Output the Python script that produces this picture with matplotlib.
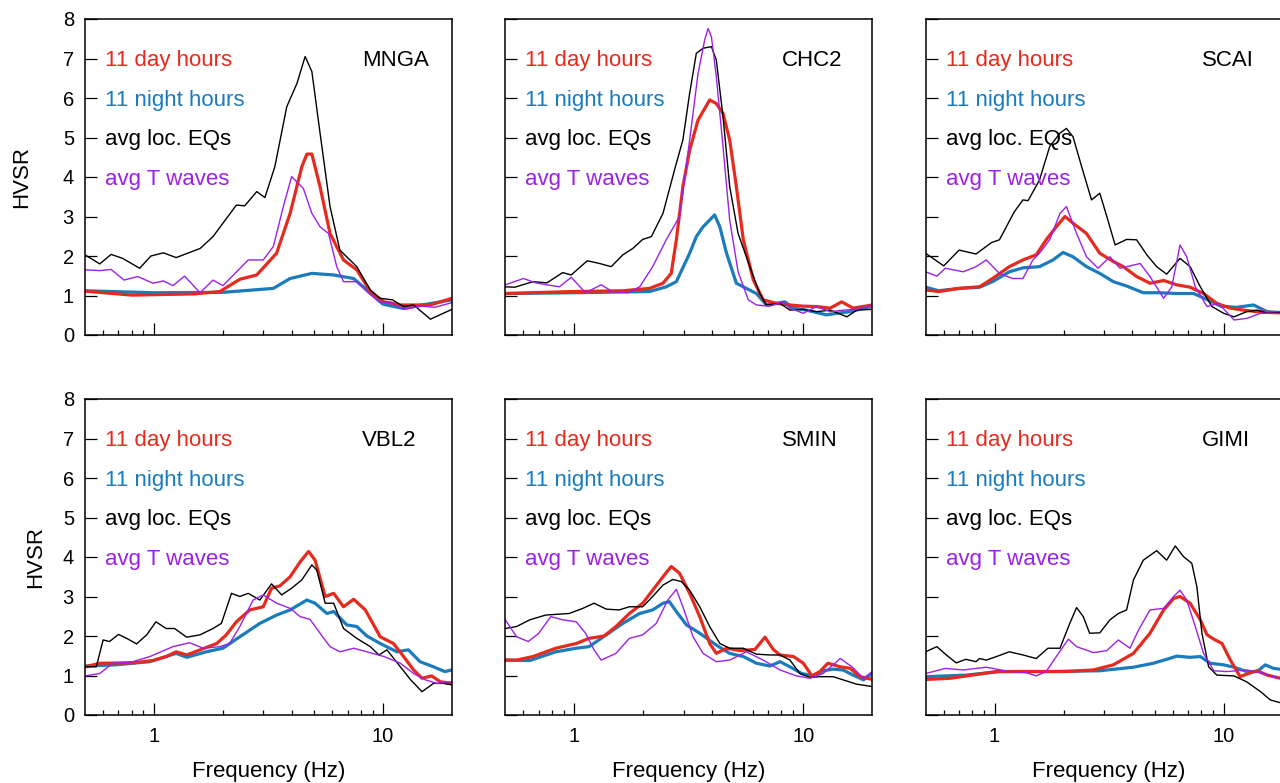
import matplotlib
matplotlib.use("Agg")
import matplotlib.pyplot as plt
from matplotlib.ticker import FixedLocator, NullFormatter

plt.rcParams['font.family'] = ['Liberation Sans', 'DejaVu Sans']

# colours of the four curves
c_day = '#e62a1e'
c_night = '#1a7bbd'
c_eq = 'black'
c_tw = '#9d20e8'

stations = ['MNGA', 'CHC2', 'SCAI', 'VBL2', 'SMIN', 'GIMI']
legend_txt = ['11 day hours', '11 night hours', 'avg loc. EQs', 'avg T waves']

# ---- MNGA ----
mnga_day_f = [0.5, 0.8, 1.5, 1.94, 2.37, 2.81, 3.43, 3.93, 4.42, 4.65, 4.89, 5.31, 5.87, 6.72, 7.68, 8.8, 10.1, 11.9, 13.6, 16.1, 20]
mnga_day = [1.11, 1.01, 1.04, 1.10, 1.41, 1.52, 2.07, 3.08, 4.26, 4.58, 4.58, 3.75, 2.57, 1.90, 1.65, 1.10, 0.84, 0.76, 0.76, 0.76, 0.93]
mnga_night_f = [0.5, 1.0, 2.0, 3.32, 3.93, 4.89, 6.09, 7.44, 8.5, 10.0, 12.3, 14.8, 20]
mnga_night = [1.12, 1.07, 1.08, 1.18, 1.43, 1.56, 1.52, 1.43, 1.14, 0.78, 0.67, 0.76, 0.89]
mnga_eq_f = [0.5, 0.58, 0.65, 0.73, 0.866, 0.97, 1.10, 1.25, 1.59, 1.81, 2.29, 2.49, 2.81, 3.05, 3.37, 3.80, 4.21, 4.57, 4.89, 5.31, 5.87, 6.48, 7.68, 8.8, 9.69, 10.98, 12.3, 13.6, 16.1, 20]
mnga_eq = [2.03, 1.80, 2.04, 1.94, 1.69, 2.0, 2.08, 1.96, 2.19, 2.49, 3.29, 3.27, 3.63, 3.48, 4.26, 5.78, 6.37, 7.05, 6.67, 5.11, 3.25, 2.15, 1.73, 1.14, 0.93, 0.89, 0.72, 0.76, 0.40, 0.65]
mnga_tw_f = [0.5, 0.58, 0.65, 0.74, 0.85, 0.99, 1.10, 1.21, 1.36, 1.59, 1.81, 2.0, 2.58, 3.0, 3.32, 3.67, 3.99, 4.49, 4.89, 5.31, 5.78, 6.28, 6.72, 7.68, 8.5, 9.7, 10.7, 12.3, 14.8, 16.8, 20]
mnga_tw = [1.65, 1.63, 1.66, 1.39, 1.48, 1.31, 1.37, 1.25, 1.49, 1.07, 1.39, 1.25, 1.90, 1.90, 2.24, 3.25, 4.01, 3.71, 3.08, 2.74, 2.57, 1.73, 1.35, 1.35, 1.10, 0.82, 0.84, 0.65, 0.73, 0.70, 0.82]

# ---- CHC2 ----
chc2_day_f = [0.5, 0.98, 1.63, 2.13, 2.44, 2.65, 2.79, 2.98, 3.19, 3.47, 3.90, 4.17, 4.46, 4.77, 5.10, 5.47, 6.05, 6.68, 7.64, 8.74, 10, 11.4, 13.1, 14.7, 16.5, 20]
chc2_day = [1.05, 1.10, 1.12, 1.18, 1.31, 1.56, 2.41, 3.76, 4.68, 5.44, 5.95, 5.86, 5.61, 4.94, 3.76, 2.41, 1.39, 0.89, 0.80, 0.76, 0.73, 0.72, 0.68, 0.84, 0.68, 0.76]
chc2_night_f = [0.5, 1.0, 2.13, 2.52, 2.79, 3.19, 3.41, 3.65, 3.90, 4.10, 4.32, 4.62, 5.10, 5.64, 6.24, 6.9, 7.6, 8.3, 9.06, 10.3, 12.6, 14.0, 16.0, 20]
chc2_night = [1.05, 1.07, 1.10, 1.22, 1.35, 2.07, 2.49, 2.74, 2.91, 3.04, 2.74, 2.07, 1.31, 1.18, 1.05, 0.76, 0.80, 0.84, 0.68, 0.63, 0.51, 0.55, 0.59, 0.73]
chc2_eq_f = [0.5, 0.55, 0.66, 0.76, 0.89, 0.97, 1.14, 1.29, 1.45, 1.63, 1.80, 1.99, 2.17, 2.44, 2.74, 2.98, 3.19, 3.41, 3.65, 3.97, 4.17, 4.46, 4.77, 5.19, 5.84, 6.45, 6.90, 7.91, 8.74, 10, 11.4, 13.1, 15.5, 17.1, 20]
chc2_eq = [1.22, 1.21, 1.35, 1.32, 1.58, 1.52, 1.88, 1.81, 1.73, 2.03, 2.19, 2.42, 2.49, 3.08, 4.18, 4.94, 6.12, 7.13, 7.26, 7.30, 6.96, 5.53, 3.76, 2.57, 1.73, 1.05, 0.76, 0.80, 0.63, 0.65, 0.59, 0.63, 0.46, 0.63, 0.65]
chc2_tw_f = [0.5, 0.60, 0.68, 0.76, 0.86, 0.97, 1.12, 1.31, 1.47, 1.71, 1.93, 2.20, 2.52, 2.88, 3.19, 3.47, 3.71, 3.84, 3.97, 4.17, 4.46, 4.77, 5.19, 5.75, 6.24, 7.14, 8.17, 8.74, 10, 11.4, 13.1, 15.0, 17.1, 20]
chc2_tw = [1.27, 1.43, 1.32, 1.27, 1.22, 1.46, 1.07, 1.27, 1.10, 1.07, 1.22, 1.73, 2.41, 3.0, 4.94, 6.62, 7.47, 7.76, 7.55, 6.54, 4.77, 2.91, 1.60, 0.89, 0.76, 0.73, 0.84, 0.68, 0.55, 0.72, 0.59, 0.63, 0.65, 0.76]

# ---- SCAI ----
scai_day_f = [0.5, 0.57, 0.70, 0.86, 0.98, 1.16, 1.33, 1.52, 1.68, 1.86, 2.03, 2.20, 2.52, 2.88, 3.30, 3.65, 4.17, 4.77, 5.47, 6.24, 7.14, 8.17, 9.34, 10.7, 12.2, 14.0, 16.0, 20]
scai_day = [1.14, 1.10, 1.18, 1.22, 1.43, 1.73, 1.90, 2.03, 2.41, 2.74, 3.0, 2.83, 2.57, 2.07, 1.86, 1.73, 1.48, 1.31, 1.38, 1.27, 1.21, 1.05, 0.80, 0.68, 0.63, 0.59, 0.57, 0.55]
scai_night_f = [0.5, 0.57, 0.70, 0.86, 0.98, 1.16, 1.33, 1.57, 1.80, 1.99, 2.20, 2.52, 2.88, 3.30, 3.77, 4.46, 5.28, 6.24, 7.4, 8.46, 9.7, 11.4, 13.5, 15.5, 20]
scai_night = [1.21, 1.12, 1.18, 1.21, 1.35, 1.60, 1.70, 1.73, 1.90, 2.09, 1.98, 1.73, 1.56, 1.35, 1.24, 1.07, 1.07, 1.05, 1.05, 0.90, 0.73, 0.70, 0.76, 0.59, 0.55]
scai_eq_f = [0.5, 0.60, 0.70, 0.83, 0.97, 1.05, 1.22, 1.33, 1.40, 1.57, 1.74, 1.93, 2.06, 2.20, 2.40, 2.65, 2.88, 3.09, 3.36, 3.77, 4.17, 4.62, 5.1, 5.64, 6.45, 7.14, 7.91, 8.89, 10, 11.1, 12.6, 14.0, 15.5, 20]
scai_eq = [2.07, 1.75, 2.15, 2.05, 2.34, 2.41, 3.12, 3.42, 3.40, 3.92, 4.77, 5.11, 5.23, 5.02, 4.26, 3.42, 3.59, 3.0, 2.28, 2.42, 2.41, 2.03, 1.73, 1.54, 1.94, 1.73, 1.22, 0.72, 0.55, 0.46, 0.59, 0.63, 0.55, 0.59]
scai_tw_f = [0.5, 0.56, 0.61, 0.73, 0.83, 0.92, 1.05, 1.20, 1.33, 1.47, 1.57, 1.74, 1.93, 2.06, 2.28, 2.52, 2.83, 3.19, 3.53, 4.04, 4.32, 4.77, 5.47, 5.94, 6.45, 6.90, 7.52, 8.46, 9.5, 11.1, 12.6, 14.5, 20]
scai_tw = [1.60, 1.49, 1.69, 1.60, 1.73, 1.90, 1.56, 1.43, 1.43, 1.90, 2.07, 2.41, 3.08, 3.25, 2.57, 1.98, 1.69, 1.98, 1.69, 1.77, 1.81, 1.48, 0.93, 1.22, 2.28, 1.98, 1.22, 0.72, 0.80, 0.38, 0.42, 0.55, 0.55]

# ---- VBL2 ----
vbl2_day_f = [0.5, 0.58, 0.81, 0.99, 1.13, 1.25, 1.39, 1.59, 1.88, 2.07, 2.29, 2.62, 3.0, 3.26, 3.55, 3.93, 4.35, 4.73, 5.05, 5.59, 6.09, 6.72, 7.44, 8.37, 9.72, 11.1, 12.3, 13.6, 14.8, 16.3, 17.8, 20]
vbl2_day = [1.22, 1.31, 1.32, 1.38, 1.48, 1.60, 1.52, 1.65, 1.81, 2.03, 2.36, 2.66, 2.74, 3.21, 3.27, 3.50, 3.88, 4.14, 3.92, 3.0, 3.08, 2.74, 2.93, 2.66, 1.98, 1.81, 1.48, 1.14, 0.93, 0.99, 0.84, 0.80]
vbl2_night_f = [0.5, 0.68, 0.96, 1.13, 1.25, 1.39, 1.69, 2.0, 2.37, 2.90, 3.43, 3.93, 4.65, 5.05, 5.69, 6.09, 6.95, 7.68, 8.5, 9.72, 11.5, 12.9, 14.5, 16.6, 18.6, 20]
vbl2_night = [1.24, 1.27, 1.35, 1.48, 1.56, 1.46, 1.60, 1.69, 1.98, 2.32, 2.53, 2.66, 2.91, 2.83, 2.57, 2.62, 2.28, 2.24, 2.0, 1.81, 1.60, 1.65, 1.35, 1.22, 1.10, 1.14]
vbl2_eq_f = [0.5, 0.56, 0.60, 0.64, 0.70, 0.76, 0.84, 0.93, 1.02, 1.13, 1.23, 1.39, 1.59, 1.81, 1.97, 2.18, 2.37, 2.58, 2.90, 3.26, 3.61, 3.99, 4.42, 4.89, 5.14, 5.59, 6.09, 6.72, 7.68, 8.80, 9.6, 10.4, 11.9, 13.2, 14.8, 16.6, 18.4, 20]
vbl2_eq = [1.22, 1.22, 1.90, 1.86, 2.04, 1.94, 1.80, 2.03, 2.36, 2.19, 2.19, 1.97, 2.03, 2.19, 2.32, 3.08, 3.0, 3.08, 2.91, 3.32, 3.04, 3.21, 3.42, 3.80, 3.67, 2.83, 2.83, 2.19, 1.94, 1.73, 1.52, 1.65, 1.22, 0.89, 0.59, 0.80, 0.80, 0.76]
vbl2_tw_f = [0.5, 0.58, 0.66, 0.81, 0.96, 1.21, 1.43, 1.64, 1.94, 2.14, 2.37, 2.71, 3.0, 3.43, 3.93, 4.35, 4.80, 5.31, 5.87, 6.49, 7.44, 8.5, 10.1, 11.9, 13.6, 15.3, 17.2, 20]
vbl2_tw = [0.99, 1.05, 1.31, 1.35, 1.48, 1.73, 1.83, 1.69, 1.73, 1.81, 2.24, 2.91, 3.04, 2.83, 2.70, 2.49, 2.42, 2.07, 1.73, 1.60, 1.69, 1.60, 1.48, 1.31, 1.05, 0.89, 0.80, 0.84]

# ---- SMIN ----
smin_day_f = [0.5, 0.56, 0.66, 0.83, 1.02, 1.16, 1.35, 1.52, 1.74, 1.99, 2.20, 2.44, 2.65, 2.88, 3.19, 3.53, 3.90, 4.17, 4.62, 5.28, 6.15, 6.80, 7.39, 7.91, 9.06, 10, 10.9, 11.8, 12.8, 14.5, 16.0, 17.7, 20]
smin_day = [1.39, 1.39, 1.48, 1.69, 1.81, 1.94, 2.0, 2.24, 2.57, 2.83, 3.16, 3.50, 3.76, 3.59, 3.08, 2.49, 1.81, 1.56, 1.69, 1.63, 1.66, 1.97, 1.66, 1.52, 1.48, 1.31, 0.99, 1.10, 1.31, 1.22, 1.18, 0.97, 0.90]
smin_night_f = [0.5, 0.64, 0.83, 1.02, 1.16, 1.38, 1.63, 1.93, 2.20, 2.44, 2.60, 2.79, 3.09, 3.53, 4.17, 4.77, 5.47, 6.24, 7.14, 7.91, 8.74, 9.84, 11.1, 12.2, 13.5, 14.9, 16.5, 18.3, 20]
smin_night = [1.39, 1.38, 1.60, 1.69, 1.73, 2.03, 2.32, 2.57, 2.66, 2.83, 2.87, 2.62, 2.28, 2.07, 1.77, 1.56, 1.48, 1.31, 1.24, 1.35, 1.22, 1.05, 0.99, 1.12, 1.16, 1.14, 1.01, 0.89, 1.05]
smin_eq_f = [0.5, 0.56, 0.64, 0.75, 0.95, 1.09, 1.22, 1.38, 1.57, 1.74, 1.99, 2.20, 2.44, 2.69, 2.93, 3.19, 3.53, 3.90, 4.32, 4.77, 5.47, 6.24, 7.14, 7.91, 8.74, 9.66, 10.7, 11.8, 13.5, 14.9, 17.1, 20]
smin_eq = [2.19, 2.24, 2.41, 2.53, 2.57, 2.70, 2.83, 2.68, 2.66, 2.74, 2.74, 3.0, 3.29, 3.43, 3.38, 3.16, 2.74, 2.24, 1.81, 1.69, 1.69, 1.54, 1.52, 1.52, 1.39, 1.05, 0.95, 0.97, 0.97, 0.89, 0.78, 0.72]
smin_tw_f = [0.5, 0.56, 0.63, 0.70, 0.79, 0.89, 1.02, 1.12, 1.22, 1.31, 1.52, 1.74, 1.99, 2.28, 2.56, 2.79, 2.98, 3.30, 3.65, 4.17, 4.77, 5.64, 6.68, 7.91, 9.34, 10.7, 12.2, 14.5, 16.3, 18.3, 20]
smin_tw = [2.41, 1.98, 1.86, 2.07, 2.49, 2.41, 2.36, 2.07, 1.65, 1.39, 1.56, 1.94, 2.03, 2.32, 2.91, 3.18, 2.74, 1.98, 1.56, 1.35, 1.39, 1.60, 1.39, 1.14, 0.99, 0.93, 1.05, 1.43, 1.22, 0.93, 1.10]

# ---- GIMI ----
gimi_day_f = [0.5, 0.64, 0.80, 1.02, 1.47, 2.06, 2.70, 3.30, 4.04, 4.77, 5.47, 6.05, 6.45, 7.14, 7.91, 8.46, 9.06, 9.84, 10.7, 11.8, 12.8, 14.0, 15.5, 17.7, 20]
gimi_day = [0.90, 0.93, 1.01, 1.10, 1.10, 1.10, 1.14, 1.27, 1.56, 2.07, 2.66, 2.95, 3.0, 2.83, 2.41, 2.03, 1.92, 1.81, 1.39, 0.97, 1.05, 1.12, 1.01, 0.93, 0.90]
gimi_night_f = [0.5, 0.75, 1.05, 1.74, 2.88, 4.04, 4.93, 5.64, 6.24, 7.14, 7.91, 8.74, 10, 11.1, 12.6, 14.0, 15.2, 16.5, 20]
gimi_night = [0.97, 1.01, 1.10, 1.10, 1.12, 1.21, 1.31, 1.41, 1.49, 1.46, 1.48, 1.31, 1.27, 1.21, 1.10, 1.10, 1.27, 1.18, 1.12]
gimi_eq_f = [0.5, 0.56, 0.61, 0.68, 0.75, 0.83, 0.86, 0.92, 1.02, 1.16, 1.33, 1.52, 1.71, 1.93, 2.13, 2.28, 2.44, 2.60, 2.88, 3.19, 3.47, 3.77, 4.04, 4.46, 5.10, 5.64, 6.15, 6.68, 7.26, 7.64, 8.04, 8.6, 9.34, 11.1, 12.6, 14.5, 16.0, 17.7, 20]
gimi_eq = [1.60, 1.73, 1.54, 1.32, 1.41, 1.35, 1.43, 1.39, 1.48, 1.60, 1.52, 1.43, 1.69, 1.69, 2.32, 2.72, 2.49, 2.07, 2.08, 2.41, 2.57, 2.66, 3.42, 3.92, 4.16, 3.92, 4.28, 4.01, 3.84, 3.25, 2.07, 1.22, 1.01, 0.99, 0.84, 0.59, 0.38, 0.31, 0.30]
gimi_tw_f = [0.5, 0.61, 0.73, 0.92, 1.16, 1.38, 1.52, 1.68, 1.86, 2.10, 2.28, 2.70, 3.09, 3.47, 3.90, 4.25, 4.77, 5.47, 6.05, 6.45, 6.90, 7.52, 8.17, 9.06, 10.3, 12.6, 14.5, 17.7, 20]
gimi_tw = [1.05, 1.18, 1.14, 1.21, 1.10, 1.07, 0.99, 1.10, 1.48, 1.92, 1.73, 1.58, 1.63, 1.90, 1.69, 2.15, 2.66, 2.70, 3.0, 3.16, 2.91, 2.24, 1.56, 1.12, 1.10, 1.14, 1.07, 0.93, 0.92]

curves = {
    'MNGA': [(mnga_night_f, mnga_night), (mnga_day_f, mnga_day), (mnga_eq_f, mnga_eq), (mnga_tw_f, mnga_tw)],
    'CHC2': [(chc2_night_f, chc2_night), (chc2_day_f, chc2_day), (chc2_eq_f, chc2_eq), (chc2_tw_f, chc2_tw)],
    'SCAI': [(scai_night_f, scai_night), (scai_day_f, scai_day), (scai_eq_f, scai_eq), (scai_tw_f, scai_tw)],
    'VBL2': [(vbl2_night_f, vbl2_night), (vbl2_day_f, vbl2_day), (vbl2_eq_f, vbl2_eq), (vbl2_tw_f, vbl2_tw)],
    'SMIN': [(smin_night_f, smin_night), (smin_day_f, smin_day), (smin_eq_f, smin_eq), (smin_tw_f, smin_tw)],
    'GIMI': [(gimi_night_f, gimi_night), (gimi_day_f, gimi_day), (gimi_eq_f, gimi_eq), (gimi_tw_f, gimi_tw)],
}
styles = [(c_night, 2.3), (c_day, 2.3), (c_eq, 1.0), (c_tw, 1.0)]
text_cols = [c_day, c_night, c_eq, c_tw]

fig = plt.figure(figsize=(12.8, 7.83), dpi=100)
W, H = 1280.0, 783.0
for i, st in enumerate(stations):
    row, col = divmod(i, 3)
    left = (85 + 420.3 * col) / W
    bottom = 1 - (335 + 380 * row) / H
    ax = fig.add_axes([left, bottom, 367 / W, 316 / H])
    for (f, v), (c, lw) in zip(curves[st], styles):
        ax.plot(f, v, color=c, lw=lw, solid_joinstyle='round')
    ax.set_xscale('log')
    ax.set_xlim(0.5, 20)
    ax.set_ylim(0, 8)
    ax.set_yticks(range(9))
    ax.xaxis.set_major_locator(FixedLocator([1, 10]))
    ax.xaxis.set_minor_locator(FixedLocator([0.6, 0.7, 0.8, 0.9, 2, 3, 4, 5, 6, 7, 8, 9]))
    ax.xaxis.set_minor_formatter(NullFormatter())
    ax.tick_params(axis='both', which='major', direction='in', length=8.4, width=0.9,
                   labelsize=14.5, top=False, right=False)
    ax.tick_params(axis='x', which='minor', direction='in', length=3.6, width=0.9, top=False)
    ax.tick_params(axis='y', pad=8)
    ax.tick_params(axis='x', pad=9)
    ax.set_xticklabels(['1', '10'])
    for s in ax.spines.values():
        s.set_linewidth(1.1)
    if col != 0:
        ax.set_yticklabels([])
    else:
        ax.set_ylabel('HVSR', fontsize=16, va='center')
        ax.yaxis.set_label_coords(-0.172 if row == 0 else -0.134, 0.5)
    if row == 0:
        ax.set_xticklabels([])
    else:
        ax.set_xlabel('Frequency (Hz)', fontsize=16, va='center')
        ax.xaxis.set_label_coords(0.5, -0.179)
    for k, (t, c) in enumerate(zip(legend_txt, text_cols)):
        ax.text(0.0545, (7 - k - 0.2) / 8, t, color=c, fontsize=16, transform=ax.transAxes,
                ha='left', va='baseline')
    ax.text(0.754, (7 - 0.2) / 8, st, color='black', fontsize=16, transform=ax.transAxes,
            ha='left', va='baseline')

fig.savefig('out.png', dpi=100)
